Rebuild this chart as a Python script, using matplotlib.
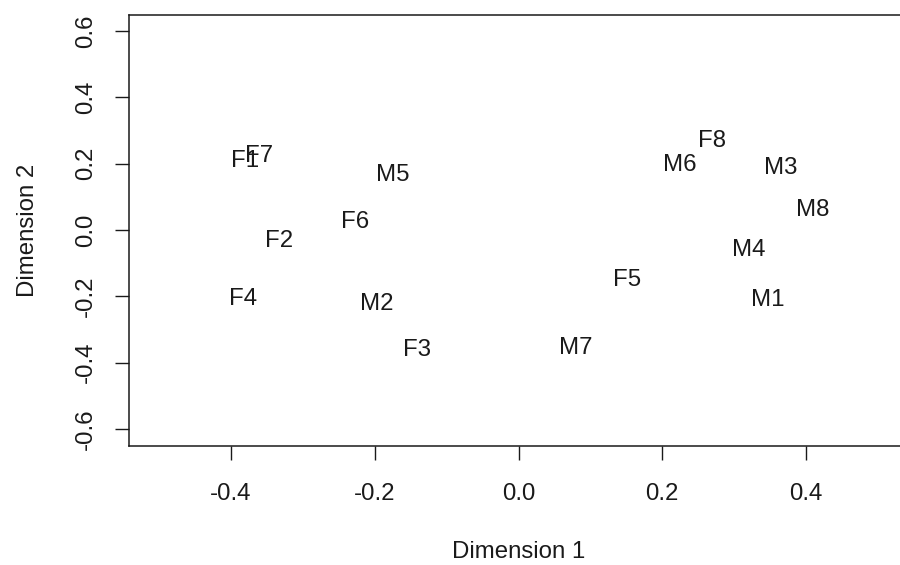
import matplotlib
matplotlib.use("Agg")
import matplotlib.pyplot as plt
from matplotlib.transforms import blended_transform_factory

plt.rcParams['font.family'] = ['Liberation Sans', 'DejaVu Sans']

# MDS coordinates for each subject
labels = ["F1", "F7", "M5", "F6", "F2", "F4", "M2", "F3",
          "F8", "M6", "M3", "M8", "M4", "F5", "M1", "M7"]
dim1 = [-0.381, -0.361, -0.175, -0.228, -0.333, -0.383, -0.197, -0.141,
        0.269, 0.225, 0.365, 0.410, 0.321, 0.151, 0.347, 0.079]
dim2 = [0.217, 0.232, 0.174, 0.033, -0.025, -0.199, -0.214, -0.353,
        0.277, 0.202, 0.193, 0.069, -0.052, -0.142, -0.202, -0.347]

xticks = [-0.4, -0.2, 0.0, 0.2, 0.4]
yticks = [-0.6, -0.4, -0.2, 0.0, 0.2, 0.4, 0.6]

W, H = 900, 565
fs = 17.3
ink = "#1a1a1a"

fig = plt.figure(figsize=(W / 100, H / 100), dpi=100)
# plot region in pixels: left 129, top 15, bottom 446, runs off the right edge
ax_w, ax_h = 779, 431
ax = fig.add_axes([129 / W, (H - 446) / H, ax_w / W, ax_h / H])
ax.set_xlim(-0.542, 0.542)
ax.set_ylim(-0.651, 0.648)

for lab, x, y in zip(labels, dim1, dim2):
    ax.text(x, y, lab, ha="center", va="center_baseline",
            fontsize=fs, color=ink)

ax.set_xticks(xticks)
ax.set_xticklabels([f"{t:.1f}" for t in xticks])
ax.set_yticks(yticks)
ax.set_yticklabels([f"{t:.1f}" for t in yticks])
ax.tick_params(direction="out", length=10, width=1.0, color=ink,
               labelsize=fs, labelcolor=ink)
ax.tick_params(axis="x", pad=17)
ax.tick_params(axis="y", pad=13)
for t in ax.get_yticklabels():
    t.set_rotation(90)
    t.set_va("center")

for side in ["left", "bottom", "top"]:
    ax.spines[side].set_linewidth(1.1)
    ax.spines[side].set_color(ink)
ax.spines["right"].set_visible(False)

ax.set_xlabel("Dimension 1", fontsize=fs, color=ink, va="center")
ax.set_ylabel("Dimension 2", fontsize=fs, color=ink, va="center")
# x label centred on x = 0, not on the (cropped) axes
ax.xaxis.set_label_coords(518.5 / W, -(552 - 446) / ax_h,
                          transform=blended_transform_factory(fig.transFigure, ax.transAxes))
ax.yaxis.set_label_coords(-(129 - 28) / ax_w, 0.5)

fig.savefig("out.png", dpi=100, facecolor="white")
